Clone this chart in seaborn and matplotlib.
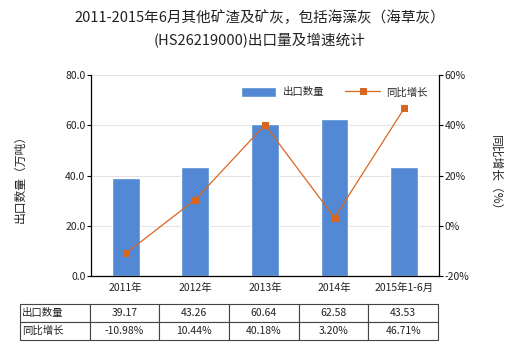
import matplotlib
matplotlib.use("Agg")
import matplotlib.pyplot as plt
import seaborn as sns
import pandas as pd

years = ["2011年", "2012年", "2013年", "2014年", "2015年1-6月"]
export_qty = [39.17, 43.26, 60.64, 62.58, 43.53]
growth_pct = [-10.98, 10.44, 40.18, 3.20, 46.71]
qty_labels = ["39.17", "43.26", "60.64", "62.58", "43.53"]
growth_labels = ["-10.98%", "10.44%", "40.18%", "3.20%", "46.71%"]

sns.set_theme(style="white")
plt.rcParams["font.family"] = ["Noto Sans CJK SC", "DejaVu Sans"]
plt.rcParams["axes.unicode_minus"] = False

BAR = "#5288d4"
LINE = "#d9661f"
TXT = "#222222"

df = pd.DataFrame({"year": years, "qty": export_qty, "growth": growth_pct})

fig = plt.figure(figsize=(5.2, 3.5), dpi=100)
ax = fig.add_axes([0.175, 0.2114, 0.669, 0.574])

sns.barplot(data=df, x="year", y="qty", color=BAR, width=0.4, ax=ax,
            saturation=1, label="出口数量", zorder=2)
if ax.get_legend() is not None:
    ax.get_legend().remove()
ax.set_ylim(0, 80)
ax.set_yticks([0, 20, 40, 60, 80])
ax.set_yticklabels([f"{v:.1f}" for v in [0, 20, 40, 60, 80]], fontsize=7.5, color=TXT)
ax.yaxis.grid(True, color="#e3e3e3", linewidth=0.8, zorder=0)
ax.set_axisbelow(True)
ax.set_xlabel("")
ax.set_ylabel("出口数量（万吨）", fontsize=8.5, color=TXT, labelpad=28)
ax.tick_params(axis="x", labelsize=7.5, colors=TXT, pad=5, length=0)
ax.tick_params(axis="y", length=3, width=0.8, color="black", pad=1, left=True)
for s in ["left", "bottom"]:
    ax.spines[s].set_color("black")
    ax.spines[s].set_linewidth(0.9)
ax.spines["top"].set_visible(False)
ax.spines["right"].set_visible(False)

ax2 = ax.twinx()
sns.lineplot(data=df, x="year", y="growth", color=LINE, marker="s", markersize=4,
             markeredgecolor=LINE, linewidth=0.9, ax=ax2, label="同比增长", legend=False)
ax2.set_ylim(-20, 60)
ax2.set_yticks([-20, 0, 20, 40, 60])
ax2.set_yticklabels([f"{v}%" for v in [-20, 0, 20, 40, 60]], fontsize=7.5, color=TXT)
ax2.set_ylabel("同比增长（%）", fontsize=8.5, color=TXT, rotation=270, labelpad=24)
ax2.tick_params(axis="y", length=3, width=0.8, color="black", pad=1, right=True)
ax2.set_xlabel("")
for s in ["top", "left", "bottom"]:
    ax2.spines[s].set_visible(False)
ax2.spines["right"].set_color("black")
ax2.spines["right"].set_linewidth(0.9)
ax.set_xlim(-0.5, 4.5)

h1, l1 = ax.get_legend_handles_labels()
h2, l2 = ax2.get_legend_handles_labels()
ax2.legend(h1 + h2, l1 + l2, loc="center", bbox_to_anchor=(0.70, 0.915), ncol=2,
           frameon=False, fontsize=7.5, handlelength=3.4, handleheight=1.1,
           columnspacing=2.0, handletextpad=0.6)

fig.text(0.5, 0.948, "2011-2015年6月其他矿渣及矿灰，包括海藻灰（海草灰）",
         ha="center", va="center", fontsize=10.5, color=TXT)
fig.text(0.5, 0.885, "(HS26219000)出口量及增速统计",
         ha="center", va="center", fontsize=10.5, color=TXT)

# data table under the chart
tax = fig.add_axes([20 / 520, 10 / 350, 418 / 520, 36 / 350])
tax.set_axis_off()
rows = [["出口数量"] + qty_labels, ["同比增长"] + growth_labels]
tbl = tax.table(cellText=rows, bbox=[0, 0, 1, 1], cellLoc="center")
tbl.auto_set_font_size(False)
for (r, c), cell in tbl.get_celld().items():
    cell.set_edgecolor("#444444")
    cell.set_linewidth(0.8)
    cell.get_text().set_fontsize(7.5)
    cell.get_text().set_color(TXT)
    if c == 0:
        cell.get_text().set_ha("left")
        cell._loc = "left"
        cell.PAD = 0.03

fig.savefig("out.png", dpi=100)
